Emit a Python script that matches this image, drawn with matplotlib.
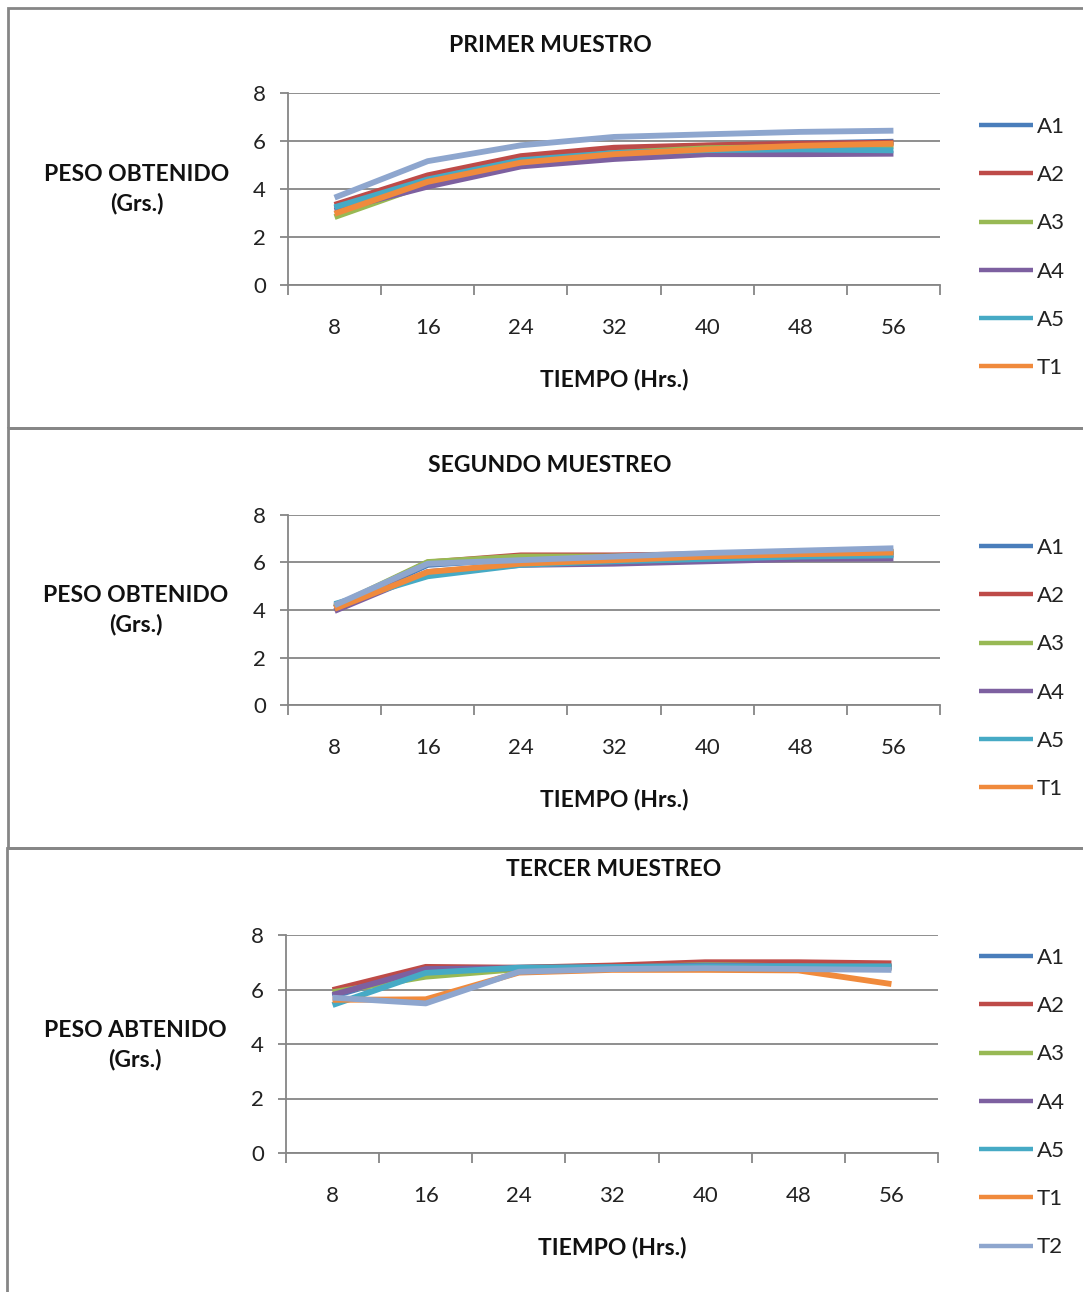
import matplotlib
matplotlib.use("Agg")
import matplotlib.pyplot as plt
from matplotlib.patches import Rectangle

plt.rcParams['font.family'] = ['Lato', 'DejaVu Sans']

hours = ["8", "16", "24", "32", "40", "48", "56"]
series_names = ["A1", "A2", "A3", "A4", "A5", "T1", "T2"]
colors = ["#4A7EBB", "#BE4B48", "#98B954", "#7D60A0", "#46AAC5", "#F08A3C", "#8EA6CE"]

# PRIMER MUESTRO
m1_A1 = [3.20, 4.45, 5.30, 5.65, 5.80, 5.90, 5.97]
m1_A2 = [3.34, 4.57, 5.37, 5.72, 5.82, 5.89, 5.93]
m1_A3 = [2.83, 4.20, 5.10, 5.50, 5.70, 5.75, 5.80]
m1_A4 = [3.10, 4.10, 4.94, 5.25, 5.45, 5.45, 5.47]
m1_A5 = [3.24, 4.40, 5.20, 5.50, 5.62, 5.65, 5.61]
m1_T1 = [2.97, 4.30, 5.10, 5.45, 5.65, 5.80, 5.89]
m1_T2 = [3.64, 5.16, 5.82, 6.17, 6.28, 6.38, 6.43]

# SEGUNDO MUESTREO
m2_A1 = [4.10, 5.90, 6.15, 6.20, 6.30, 6.35, 6.35]
m2_A2 = [4.10, 6.00, 6.30, 6.30, 6.35, 6.40, 6.45]
m2_A3 = [4.15, 6.02, 6.25, 6.25, 6.35, 6.40, 6.45]
m2_A4 = [3.96, 5.60, 5.90, 5.95, 6.05, 6.15, 6.17]
m2_A5 = [4.25, 5.42, 5.90, 6.05, 6.15, 6.25, 6.30]
m2_T1 = [4.05, 5.60, 5.95, 6.10, 6.25, 6.35, 6.42]
m2_T2 = [4.20, 5.95, 6.10, 6.25, 6.40, 6.50, 6.60]

# TERCER MUESTREO
m3_A1 = [5.75, 6.75, 6.80, 6.85, 6.95, 6.90, 6.85]
m3_A2 = [5.98, 6.83, 6.80, 6.88, 7.00, 7.00, 6.96]
m3_A3 = [5.90, 6.47, 6.75, 6.80, 6.90, 6.85, 6.80]
m3_A4 = [5.80, 6.75, 6.78, 6.82, 6.88, 6.85, 6.80]
m3_A5 = [5.43, 6.61, 6.80, 6.82, 6.85, 6.85, 6.85]
m3_T1 = [5.62, 5.64, 6.62, 6.72, 6.72, 6.70, 6.20]
m3_T2 = [5.70, 5.49, 6.65, 6.75, 6.78, 6.75, 6.72]

titles = ["PRIMER MUESTRO", "SEGUNDO MUESTREO", "TERCER MUESTREO"]
ylabels = ["PESO OBTENIDO\n(Grs.)", "PESO OBTENIDO\n(Grs.)", "PESO ABTENIDO\n(Grs.)"]
xlabel = "TIEMPO (Hrs.)"
yticks = [0, 2, 4, 6, 8]

W, H = 1083, 1292
fig = plt.figure(figsize=(W / 100, H / 100), dpi=100)
GRAY = "#868686"

def fx(px):
    return px / W

def fy(py):
    return 1 - py / H

# panel frames
for (x0, y0, x1, y1) in [(8, 8, 1095, 428), (8, 428, 1095, 848), (7, 848, 1095, 1305)]:
    fig.add_artist(Rectangle((fx(x0), fy(y1)), fx(x1 - x0), (y1 - y0) / H,
                             transform=fig.transFigure, fill=False,
                             edgecolor=GRAY, linewidth=2.0, clip_on=False))

panels = [
    dict(data=[m1_A1, m1_A2, m1_A3, m1_A4, m1_A5, m1_T1, m1_T2], ax=(288, 93, 940, 285),
         title=(550, 45), ylab=(137, 189), xlab=(614, 379), leg_n=6, leg_top=125),
    dict(data=[m2_A1, m2_A2, m2_A3, m2_A4, m2_A5, m2_T1, m2_T2], ax=(288, 515, 940, 705),
         title=(550, 466), ylab=(136, 610), xlab=(614, 800), leg_n=6, leg_top=546),
    dict(data=[m3_A1, m3_A2, m3_A3, m3_A4, m3_A5, m3_T1, m3_T2], ax=(286, 935, 938, 1153),
         title=(614, 869), ylab=(135, 1045), xlab=(612, 1248), leg_n=7, leg_top=956),
]

x = list(range(len(hours)))
for i, p in enumerate(panels):
    l, t, r, b = p["ax"]
    ax = fig.add_axes([fx(l), fy(b), fx(r - l), (b - t) / H])
    handles = []
    for name, vals, c in zip(series_names, p["data"], colors):
        h, = ax.plot(x, vals, color=c, linewidth=4.2, solid_capstyle="butt",
                     solid_joinstyle="round", label=name)
        handles.append(h)
    ax.set_xlim(-0.5, len(hours) - 0.5)
    ax.set_ylim(0, 8)
    ax.set_yticks(yticks)
    ax.set_yticklabels([str(v) for v in yticks])
    ax.set_xticks([k - 0.5 for k in range(len(hours) + 1)])
    ax.set_xticklabels([])
    ax.set_xticks(x, minor=True)
    ax.set_xticklabels(hours, minor=True)
    ax.tick_params(axis="x", which="major", direction="out", length=7, width=1.3, color=GRAY)
    ax.tick_params(axis="x", which="minor", length=0, pad=24, labelsize=16, labelcolor="#222222")
    ax.tick_params(axis="y", direction="out", length=6, width=1.3, color=GRAY, pad=10,
                   labelsize=16, labelcolor="#222222")
    ax.grid(axis="y", color=GRAY, linewidth=1.3)
    ax.set_axisbelow(True)
    for s in ["top", "right"]:
        ax.spines[s].set_visible(False)
    for s in ["left", "bottom"]:
        ax.spines[s].set_color(GRAY)
        ax.spines[s].set_linewidth(1.3)

    fig.text(fx(p["title"][0]), fy(p["title"][1]), titles[i], ha="center", va="center",
             fontsize=16.5, fontweight="bold", color="#111111")
    fig.text(fx(p["ylab"][0]), fy(p["ylab"][1]), ylabels[i], ha="center", va="center",
             fontsize=16.5, fontweight="bold", color="#111111", linespacing=1.45)
    fig.text(fx(p["xlab"][0]), fy(p["xlab"][1]), xlabel, ha="center", va="center",
             fontsize=16.5, fontweight="bold", color="#111111")

    n = p["leg_n"]
    leg = fig.legend(handles[:n], series_names[:n], loc="upper left",
                     bbox_to_anchor=(fx(979), fy(p["leg_top"] - 8)),
                     bbox_transform=fig.transFigure, frameon=False,
                     fontsize=16, handlelength=2.45, handletextpad=0.15,
                     labelspacing=1.27, borderaxespad=0, borderpad=0)
    for lh in leg.get_lines():
        lh.set_linewidth(3.2)
    for tx in leg.get_texts():
        tx.set_color("#222222")

fig.savefig("out.png", dpi=100)
